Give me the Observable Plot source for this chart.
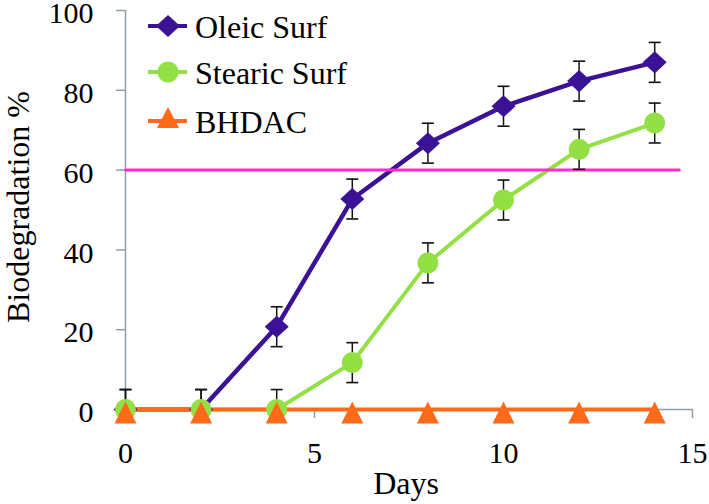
<!DOCTYPE html>
<html>
<head>
<meta charset="utf-8">
<script src="https://cdn.jsdelivr.net/npm/d3@7"></script>
<script src="https://cdn.jsdelivr.net/npm/@observablehq/plot@0.6"></script>
<style>
  html, body { margin: 0; padding: 0; background: #fff; }
  #chart { width: 709px; height: 504px; }
  #chart svg, #chart svg text { font-family: "Liberation Serif", Tinos, "Times New Roman", "DejaVu Serif", "Noto Serif", serif !important; }
</style>
</head>
<body>
<div id="chart"></div>
<script>
// ---- data ----
const days = [0, 2, 4, 6, 8, 10, 12, 14];
const oleic = [0, 0, 20.75, 52.75, 66.75, 76, 82.3, 87];
const stearic = [0, 0, 0, 11.75, 36.75, 52.5, 65.2, 71.8];
const bhdac = [0, 0, 0, 0, 0, 0, 0, 0];
const oleicErr = [5, 5, 5, 5, 5, 5, 5, 5];
const stearicErr = [5, 5, 5, 5, 5, 5, 5, 5];
const seriesNames = ["Oleic Surf", "Stearic Surf", "BHDAC"];
const seriesColors = ["#3b1296", "#93e045", "#ff6a1a"];
const thresholdValue = 60;
const thresholdDays = [0, 14.65];
const xTicks = [0, 5, 10, 15];
const yTicks = [0, 20, 40, 60, 80, 100];
const xLabel = "Days";
const yLabel = "Biodegradation %";

// ---- build tables ----
function rows(values, errs, name) {
  return days.map((d, i) => ({day: d, value: values[i], err: errs ? errs[i] : 0, series: name}));
}
const oleicRows = rows(oleic, oleicErr, seriesNames[0]);
const stearicRows = rows(stearic, stearicErr, seriesNames[1]);
const bhdacRows = rows(bhdac, null, seriesNames[2]);
const errRows = [...oleicRows, ...stearicRows];
const thresholdRows = thresholdDays.map(d => ({day: d, value: thresholdValue}));

// ---- symbols ----
const rad = size => Math.sqrt(size / Math.PI);
const diamond = {draw(ctx, size) { const r = rad(size);
  ctx.moveTo(0, -r * 0.92); ctx.lineTo(r, 0); ctx.lineTo(0, r * 0.92); ctx.lineTo(-r, 0); ctx.closePath(); }};
const triangleChart = {draw(ctx, size) { const r = rad(size);
  ctx.moveTo(0, -r * 0.72); ctx.lineTo(r, r * 1.27); ctx.lineTo(-r, r * 1.27); ctx.closePath(); }};
const capSym = {draw(ctx, size) { const r = rad(size);
  ctx.moveTo(-r, 0); ctx.lineTo(r, 0); }};

const axisColor = "#8e9ea6";
const font = "Liberation Serif, Tinos, Times New Roman, DejaVu Serif, Noto Serif, serif";

const chart = Plot.plot({
  width: 709,
  height: 504,
  marginLeft: 125,
  marginRight: 17,
  marginTop: 10,
  marginBottom: 95,
  x: {domain: [0, 15]},
  y: {domain: [0, 100]},
  style: {fontFamily: font, fontSize: "30px", background: "#fff", color: "#000", overflow: "visible"},
  marks: [
    Plot.ruleX([0], {stroke: axisColor, strokeWidth: 1.5}),
    Plot.ruleY([0], {stroke: axisColor, strokeWidth: 1.5}),
    Plot.axisY({ticks: yTicks, tickSize: 9, stroke: axisColor, strokeWidth: 1.5, tickFormat: () => "", label: null}),
    Plot.axisY({ticks: yTicks, tickSize: 0, tickPadding: 32, dy: 3, fill: "#000", fontSize: 30, fontFamily: font, label: null}),
    Plot.axisX({ticks: xTicks, tickSize: 9, tickPadding: 23, stroke: axisColor, fill: "#000", strokeWidth: 1.5, fontSize: 30, fontFamily: font, label: null}),
    Plot.text([yLabel], {frameAnchor: "left", textAnchor: "middle", rotate: -90, dx: -97, dy: -3, lineAnchor: "bottom", fontSize: 32, fontFamily: font, fill: "#000"}),
    Plot.text([xLabel], {frameAnchor: "bottom", textAnchor: "middle", dx: -3, dy: 84, lineAnchor: "bottom", fontSize: 32, fontFamily: font, fill: "#000"}),
    Plot.line(oleicRows, {x: "day", y: "value", stroke: seriesColors[0], strokeWidth: 4.5}),
    Plot.line(stearicRows, {x: "day", y: "value", stroke: seriesColors[1], strokeWidth: 4}),
    Plot.line(thresholdRows, {x: "day", y: "value", stroke: "#ff2ad0", strokeWidth: 3}),
    Plot.ruleX(errRows, {x: "day", y1: d => Math.max(0, d.value - d.err), y2: d => d.value + d.err, stroke: "#111", strokeWidth: 1.5}),
    Plot.dot(errRows, {x: "day", y: d => d.value + d.err, symbol: capSym, r: 6, stroke: "#111", strokeWidth: 1.6, fill: "none"}),
    Plot.dot(errRows, {x: "day", y: d => Math.max(0, d.value - d.err), symbol: capSym, r: 6, stroke: "#111", strokeWidth: 1.6, fill: "none"}),
    Plot.line(bhdacRows, {x: "day", y: "value", stroke: seriesColors[2], strokeWidth: 4}),
    Plot.dot(oleicRows, {x: "day", y: "value", symbol: diamond, r: 12, fill: seriesColors[0], stroke: "none"}),
    Plot.dot(stearicRows, {x: "day", y: "value", symbol: "circle", r: 10.5, fill: seriesColors[1], stroke: "none"}),
    Plot.dot(bhdacRows, {x: "day", y: "value", symbol: triangleChart, r: 11, fill: seriesColors[2], stroke: "none"})
  ]
});
document.getElementById("chart").appendChild(chart);

// ---- legend (top-left, inside the plot) ----
const legendRows = [26, 72, 121];
const legendSymbols = [
  (g, c) => g.append("path").attr("d", "M0,-11 L12,0 L0,11 L-12,0 Z").attr("fill", c),
  (g, c) => g.append("circle").attr("r", 10.5).attr("fill", c),
  (g, c) => g.append("path").attr("d", "M0,-14 L11,7 L-11,7 Z").attr("fill", c)
];
const svg = d3.select(chart);
const lg = svg.append("g").attr("font-family", font).attr("font-size", 32).attr("text-anchor", "start");
seriesNames.forEach((name, i) => {
  const row = lg.append("g").attr("transform", `translate(0,${legendRows[i]})`);
  row.append("line").attr("x1", 148).attr("x2", 187).attr("y1", 0).attr("y2", 0)
    .attr("stroke", seriesColors[i]).attr("stroke-width", 4);
  legendSymbols[i](row.append("g").attr("transform", "translate(168,0)"), seriesColors[i]);
  row.append("text").attr("x", 195).attr("y", 12).attr("fill", "#000").attr("text-anchor", "start").text(name);
});
</script>
</body>
</html>
